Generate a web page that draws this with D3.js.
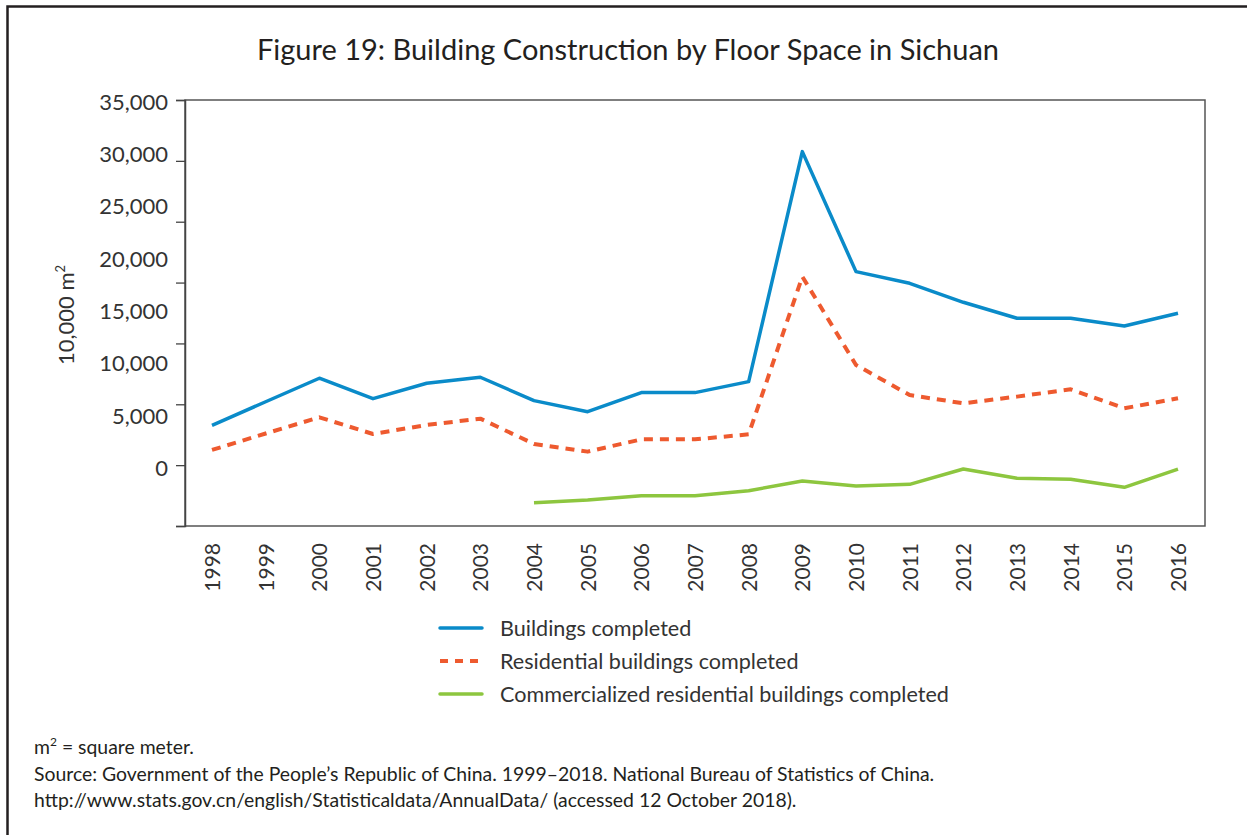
<!DOCTYPE html>
<html>
  <head>
  <title>Building Construction by Floor Space in Sichuan</title>
  </head>
  <body>
    <style>
        body, html {
          margin: 0;
          padding: 0;
          background: #fff;
        }
        text {
          font-family: Lato, "Open Sans", sans-serif;
          fill: #231f20;
        }
      </style>

  <svg id="svg" width="1247" height="835"></svg>

  <script src="https://d3js.org/d3.v7.min.js"></script>
  <script>
    // Years on the x axis
    const years = ['1998', '1999', '2000', '2001', '2002', '2003', '2004', '2005', '2006',
                   '2007', '2008', '2009', '2010', '2011', '2012', '2013', '2014', '2015', '2016']
    // values in 10,000 m2
    const buildings = [8270, 10210, 12140, 10460, 11730, 12220, 10300, 9390, 10960,
                       10960, 11860, 30760, 20900, 19940, 18380, 17070, 17070, 16430, 17480]
    const residential = [6250, 7600, 8930, 7560, 8300, 8820, 6740, 6110, 7120,
                         7120, 7530, 20490, 13230, 10760, 10080, 10630, 11230, 9670, 10490]
    const commercial = [null, null, null, null, null, null, 1920, 2140, 2490,
                        2490, 2900, 3700, 3290, 3420, 4680, 3920, 3840, 3180, 4680]
    const yTicks = [0, 5000, 10000, 15000, 20000, 25000, 30000, 35000]
    const seriesNames = ['Buildings completed', 'Residential buildings completed',
                         'Commercialized residential buildings completed']

    const width = 1247
    const height = 835
    const plotLeft = 185, plotRight = 1205, plotTop = 100, plotBottom = 526

    const svg = d3.select('#svg')

    // outer frame (top and left only, the rest is cropped)
    svg.append('path')
        .attr('d', `M${width},6.5 H7.5 V${height}`)
        .attr('fill', 'none')
        .attr('stroke', '#231f20')
        .attr('stroke-width', 2.5)

    // title
    svg.append('text')
        .attr('x', 628)
        .attr('y', 60)
        .attr('text-anchor', 'middle')
        .style('font-size', '29px')
        .text('Figure 19: Building Construction by Floor Space in Sichuan')

    // scales
    const xscale = d3.scalePoint()
        .domain(years)
        .range([212, 1178])
    const yscale = d3.scaleLinear()
        .domain([0, 35000])
        .range([plotBottom, plotTop])
    // the tick labels sit on their own spacing in the original
    const ylabelScale = d3.scaleLinear()
        .domain([0, 35000])
        .range([468, 102])

    // plot box
    svg.append('rect')
        .attr('x', plotLeft)
        .attr('y', plotTop)
        .attr('width', plotRight - plotLeft)
        .attr('height', plotBottom - plotTop)
        .attr('fill', 'none')
        .attr('stroke', '#555')
        .attr('stroke-width', 1.5)

    // left axis: ticks only
    const leftAxis = d3.axisLeft(yscale)
        .tickValues(yTicks)
        .tickFormat('')
        .tickSize(9)
    const yAxisG = svg.append('g')
        .attr('transform', `translate(${plotLeft}, 0)`)
        .call(leftAxis)
    yAxisG.select('.domain').attr('stroke', '#444').attr('stroke-width', 1.5)
    yAxisG.selectAll('.tick line').attr('stroke', '#444').attr('stroke-width', 1.3)

    // y tick labels
    svg.append('g')
        .selectAll('text')
        .data(yTicks)
        .join('text')
        .attr('x', 168)
        .attr('y', d => ylabelScale(d))
        .attr('dy', '0.36em')
        .attr('text-anchor', 'end')
        .style('font-size', '22px')
        .style('fill', '#333')
        .text(d => d3.format(',')(d))

    // y axis title
    const ytitle = svg.append('text')
        .attr('transform', 'translate(74, 315) rotate(-90)')
        .attr('text-anchor', 'middle')
        .style('font-size', '22px')
        .style('fill', '#333')
    ytitle.append('tspan').text('10,000 m')
    ytitle.append('tspan').attr('dy', -9).style('font-size', '13px').text('2')

    // bottom axis: labels only, rotated
    const bottomAxis = d3.axisBottom(xscale).tickSize(0).tickPadding(0)
    const xAxisG = svg.append('g')
        .attr('transform', `translate(0, ${plotBottom})`)
        .call(bottomAxis)
    xAxisG.select('.domain').remove()
    xAxisG.selectAll('.tick text')
        .attr('transform', 'rotate(-90)')
        .attr('x', -17)
        .attr('y', 0)
        .attr('dy', '0.36em')
        .attr('text-anchor', 'end')
        .style('font-family', 'Lato, sans-serif')
        .style('font-size', '21px')
        .style('fill', '#333')

    // line generator
    const linegen = d3.line()
        .defined(d => d.v != null)
        .x(d => xscale(d.year))
        .y(d => yscale(d.v))

    const toPoints = arr => arr.map((v, i) => ({ year: years[i], v: v }))

    const styles = [
        { color: '#0a8bc9', dash: null, width: 3.5 },
        { color: '#ee5a2f', dash: '9,7', width: 4 },
        { color: '#8dc63f', dash: null, width: 3.5 }
    ]
    const allSeries = [buildings, residential, commercial]

    const graph = svg.append('g')
    // draw green first so the others sit on top
    ;[2, 1, 0].forEach(i => {
        graph.append('path')
            .attr('d', linegen(toPoints(allSeries[i])))
            .attr('fill', 'none')
            .attr('stroke', styles[i].color)
            .attr('stroke-width', styles[i].width)
            .attr('stroke-dasharray', styles[i].dash)
            .attr('stroke-linejoin', 'round')
    })

    // legend
    const legend = svg.append('g')
    seriesNames.forEach((name, i) => {
        const y = 628 + i * 33
        legend.append('line')
            .attr('x1', 440)
            .attr('x2', i === 1 ? 484 : 482)
            .attr('y1', y)
            .attr('y2', y)
            .attr('stroke', styles[i].color)
            .attr('stroke-width', styles[i].width)
            .attr('stroke-dasharray', i === 1 ? '8,7' : null)
            .attr('stroke-linecap', i === 1 ? 'butt' : 'round')
        legend.append('text')
            .attr('x', 500)
            .attr('y', y)
            .attr('dy', '0.35em')
            .style('font-size', '21.6px')
            .style('fill', '#333')
            .text(name)
    })

    // notes
    const notes = svg.append('g').style('font-size', '19.4px')
    const n1 = notes.append('text').attr('x', 34).attr('y', 754)
    n1.append('tspan').text('m')
    n1.append('tspan').attr('dy', -8).style('font-size', '12px').text('2')
    n1.append('tspan').attr('dy', 8).text(' = square meter.')
    notes.append('text').attr('x', 34).attr('y', 781)
        .text('Source: Government of the People\u2019s Republic of China. 1999\u20132018. National Bureau of Statistics of China.')
    notes.append('text').attr('x', 34).attr('y', 807)
        .text('http://www.stats.gov.cn/english/Statisticaldata/AnnualData/ (accessed 12 October 2018).')
  </script>
  </body>
</html>
